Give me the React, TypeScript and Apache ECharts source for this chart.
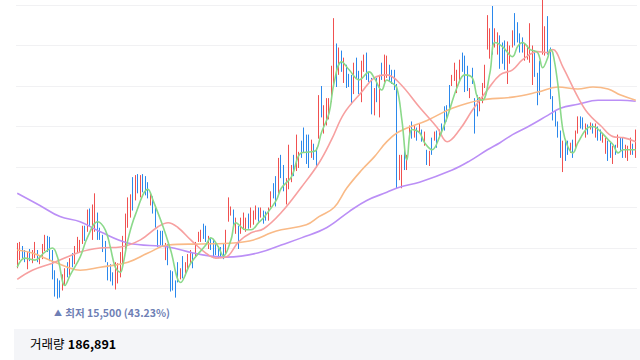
import React, { useEffect, useRef } from "react";
import * as echarts from "echarts";

// [open, close, low, high]
const candles: number[][] = [
  [17300,18050,17000,18250],[17500,18200,17400,18300],[18000,17600,17500,18100],[17750,17450,17300,17900],
  [17100,17650,16950,17800],[17850,17500,17350,17950],[17400,17800,17250,17900],[17650,18200,17500,18300],
  [17750,17450,17300,17900],[17300,17550,17200,17650],[17600,18100,17450,18200],[18000,18550,17850,18650],
  [18500,17950,17800,18600],[18400,17500,17350,18550],[17550,16600,16450,17900],[16600,15800,15600,16900],
  [16250,15600,15500,16500],[16200,15700,15550,16400],[16050,16550,15900,16700],[16300,16900,16150,17000],
  [17100,16700,16550,17300],[16800,17350,16650,17500],[17600,17150,17050,17750],[17300,18000,17200,18100],
  [17850,18450,17750,18550],[17900,18300,17800,18400],[18300,19000,18200,19100],[19000,18500,18350,19100],
  [18900,19800,18800,19900],[19850,19150,19050,19950],[18500,20000,18400,20150],[18900,19800,18800,20700],
  [19650,18500,18400,19750],[18900,18500,18400,19000],[18550,17900,17800,18650],[18250,17400,17300,18350],
  [17150,16500,16400,17300],[17000,16500,16350,17200],[16650,16250,16150,16800],[16100,17100,15950,17300],
  [16400,17100,16250,17250],[16800,17650,16550,17800],[17300,18400,17200,18600],[18000,19500,17850,19700],
  [19150,20350,19000,20500],[19650,20500,19500,20650],[21350,20000,19850,21500],[20450,21350,20350,21600],
  [21550,20850,20700,21650],[20600,21450,20500,21600],[21500,20950,20750,21650],[21350,20750,20600,21550],
  [21100,20600,20450,21250],[20250,20650,20100,20750],[20450,19800,19700,20550],[19850,19150,19000,20000],
  [18800,18150,18050,18900],[18750,18300,18150,18850],[18750,18250,18100,18850],[17500,18100,17400,18250],
  [18050,17300,17150,18200],[16700,15950,15850,16900],[16700,16050,15900,16850],[16250,15600,15550,16400],
  [17150,16400,16300,17300],[16600,16900,16450,17000],[17450,16600,16500,17600],[16800,17150,16650,17300],
  [17000,17550,16900,17700],[17300,17800,17200,17900],[17600,17100,17000,17750],[17650,18200,17550,18300],
  [18400,18700,18300,18800],[18400,18800,18300,18900],[19100,18550,18450,19200],[19000,18400,18300,19100],
  [18050,18500,17950,18600],[18400,18000,17900,18500],[18350,17600,17500,18450],[18100,17750,17650,18200],
  [18000,17600,17500,18100],[17950,17650,17550,18050],[18100,17600,17450,18200],[17800,18800,17700,18900],
  [19500,20350,19300,20500],[19700,20000,19600,20050],[19800,19100,19000,19900],[18800,19400,18700,19500],
  [19000,18100,17950,19100],[18800,19400,18700,19500],[19000,19650,18900,19750],[18900,19400,18800,19500],
  [19600,19100,18950,19700],[19150,19900,19000,20000],[19300,19750,19150,19850],[19550,20000,19400,20100],
  [19900,19400,19300,20000],[19600,19900,19500,20000],[19750,19300,19200,19850],[19700,19450,19350,19800],
  [19450,19900,19350,20000],[20050,20700,20000,20800],[21100,20550,20450,21200],[21450,20150,20050,21550],
  [20850,22350,20700,22450],[22500,21550,21450,22600],[22000,20950,20800,22100],[20250,21350,20150,21450],
  [21050,23000,20900,23100],[21350,22000,21250,22100],[22500,21650,21550,22600],[21950,23500,21800,23600],
  [22050,22650,21950,22750],[23200,22550,22450,23300],[23850,22800,22700,23950],[23500,22250,22150,23600],
  [23500,22050,21950,23600],[22550,23250,22450,23350],[23050,22450,22350,23150],[22850,22050,21950,22950],
  [23550,25450,23400,25550],[25900,24600,24450,26000],[23800,24950,23650,25050],[24200,25300,24050,25400],
  [24500,25300,24350,25400],[25350,26900,25200,27000],[26800,29000,26050,29350],[28000,26100,25950,28100],
  [26700,27800,26550,27900],[27650,26850,26700,27750],[26300,27300,26150,27400],[26950,26000,25900,27050],
  [26500,26100,25950,26600],[26450,25250,25100,26550],[25750,27050,25600,27150],[27300,26500,26400,27400],
  [26650,25750,25600,26750],[25350,27150,25200,27250],[26850,27450,26700,27550],[27550,26450,26300,27650],
  [26600,26300,26200,26700],[26300,24750,24600,26400],[24700,25800,24550,25900],[26300,25350,25200,26400],
  [24600,26450,24450,26550],[27050,26450,26300,27150],[26350,27450,26200,27550],[26500,27450,26400,27500],
  [26950,26350,26250,27050],[26700,26200,26100,26800],[26700,25950,25800,26800],[26000,21100,20950,26100],
  [21500,22500,21350,22600],[21050,22500,20950,22600],[22750,22000,21850,22850],[21950,22500,21850,22600],
  [23550,24000,23400,24050],[24150,23550,23400,24250],[23550,24000,23450,24050],[23850,23400,23300,23950],
  [23800,24050,23700,24150],[23750,23400,23250,23850],[23150,23650,23050,23750],[22750,22250,22100,22850],
  [22150,22700,22050,22800],[23350,22700,22600,23450],[23400,23650,23300,23750],[23700,23050,22950,23800],
  [23550,23750,23450,23850],[24050,23750,23650,24150],[24900,23900,23800,25000],[24950,24350,24250,25050],
  [25950,25000,24900,26050],[26100,26450,26000,26550],[26350,27050,26250,27150],[25750,26700,25650,26800],
  [26350,27200,26250,27300],[27550,26850,26700,27650],[27400,25850,25700,27500],[26900,25850,25750,27000],
  [25500,25800,25400,25900],[26800,26200,26100,26900],[25300,23750,23650,25400],[25450,24600,24500,25550],
  [24850,25350,24750,25450],[25250,26050,25150,26150],[26000,26950,25900,27050],[27950,29400,27800,29500],
  [27500,28750,27350,28850],[29850,27700,27550,29950],[28000,28750,27900,28850],[27700,28550,27550,28650],
  [28400,27000,26850,28500],[28050,27200,27100,28150],[28150,26950,26800,28250],[26250,28100,26100,28200],
  [27200,27950,27100,28000],[28000,28650,27900,28750],[29500,28150,28000,29600],[29050,28250,28150,29150],
  [28500,27750,27650,28600],[28300,27750,27650,28400],[27350,28000,27250,28100],[27400,27950,27300,28000],
  [27250,29000,27150,29100],[26200,27950,26050,28000],[27650,26600,26450,27750],[26550,25200,25050,26650],
  [27150,25700,25550,27250],[27700,30100,27550,30350],[27600,28850,27500,28950],[29350,27700,27550,29450],
  [27800,25500,25350,27900],[25400,24450,24300,25500],[24700,24100,24000,24800],[24150,23550,23450,24250],
  [23700,22550,22450,23800],[22350,23200,21750,23300],[23250,22400,22300,23350],[23200,22700,22600,23300],
  [22800,23100,22700,23200],[23250,22550,22450,23350],[23050,23700,22950,23800],[23750,24400,23650,24500],
  [24400,24000,23900,24500],[24350,23950,23850,24450],[23550,24050,23450,24150],[24000,23700,23600,24100],
  [23950,24100,23850,24200],[24050,23750,23650,24150],[23550,24050,23450,24150],[23950,23400,23300,24000],
  [23750,23400,23300,23850],[23300,23550,23200,23650],[22750,23350,22650,23450],[23200,22400,22300,23300],
  [23100,22550,22450,23200],[22250,22950,22150,23050],[23000,22700,22600,23100],[23050,23500,22950,23600],
  [23350,22900,22800,23450],[23350,22550,22450,23450],[22550,23000,22450,23100],[22400,22950,22300,23050],
  [22700,23350,22600,23450],[23050,22700,22600,23150],[22600,23750,22450,23850],
];

const categories: string[] = candles.map((_, i) => String(i));

// moving averages: [candle index, price]
const ma5: number[][] = [
  [0,17050],[3,17500],[7,17400],[11,17800],[14,18000],[16,17550],[19,16150],[21,16650],[25,17550],[28,18550],
  [32,19300],[35,18900],[37,18050],[39,17050],[41,16800],[42,17150],[44,18400],[47,19650],[52,20900],[54,20350],
  [58,19050],[61,17900],[65,16300],[69,17250],[75,18150],[77,18500],[80,18050],[82,17600],[85,18400],[87,19250],
  [91,18900],[93,18900],[96,19250],[98,19500],[103,20350],[105,20950],[109,21500],[113,22700],[117,22750],[119,22850],
  [121,23700],[124,24650],[126,26150],[129,27200],[132,26800],[136,26300],[140,26700],[142,26400],[145,25800],[147,26300],
  [149,26150],[151,25900],[153,24300],[155,22350],[157,23850],[160,23700],[162,23200],[165,22850],[168,23500],[171,24450],
  [175,25950],[178,26550],[181,26400],[183,25450],[185,25300],[188,26650],[190,28150],[193,27950],[197,27450],[199,27950],
  [201,28150],[204,27800],[207,27650],[209,26900],[211,27400],[212,27800],[213,27650],[215,26100],[217,23850],[219,23000],
  [221,22700],[223,23200],[227,23950],[229,24000],[232,23750],[235,23350],[237,23100],[239,22700],[241,22850],[243,22850],
  [246,22850],
];
const ma20: number[][] = [
  [0,16450],[6,16900],[14,17250],[25,17800],[33,18000],[41,18050],[49,18400],[56,19050],[60,19250],[64,19000],
  [69,18400],[75,17750],[79,17500],[83,17550],[88,18300],[93,18750],[98,18950],[105,19750],[113,21000],[120,22200],
  [125,23350],[130,24650],[137,25700],[142,26400],[147,26550],[152,26150],[160,24950],[167,23950],[171,23250],[176,23850],
  [181,24800],[187,25800],[192,26550],[197,26800],[201,27300],[207,27700],[211,27650],[213,27800],[217,26950],[223,25450],
  [227,24650],[232,24050],[237,23500],[241,23450],[246,23250],
];
const ma60: number[][] = [
  [0,17900],[6,17750],[13,17400],[20,17050],[25,16900],[33,17050],[44,17300],[52,17750],[60,18150],[73,18200],
  [86,18250],[94,18400],[101,18750],[105,18900],[115,19150],[120,19550],[126,20000],[131,20950],[137,21850],[142,22500],
  [147,23250],[152,23750],[163,24300],[173,24900],[184,25300],[197,25450],[207,25700],[215,25950],[223,25850],[229,25950],
  [235,25850],[240,25550],[246,25300],
];
const ma120: number[][] = [
  [0,20700],[9,20100],[17,19550],[25,19300],[33,18800],[44,18250],[60,18050],[70,17750],[77,17600],[83,17550],
  [89,17600],[97,17800],[105,18150],[113,18500],[123,19000],[132,19800],[139,20350],[147,20750],[152,21000],[160,21250],
  [173,21850],[180,22300],[187,22850],[192,23200],[197,23600],[204,24050],[211,24550],[216,24900],[223,25100],[231,25300],
  [240,25300],[246,25250],
];

const yMin = 14000;
const yMax = 30000;
const yInterval = 2000;

const lowIndex = 16;
const lowPrice = 15500;
const lowText = "최저 15,500 (43.23%)";
const volumeLabel = "거래량";
const volumeValue = "186,891";

const FONT = '"Noto Sans CJK KR", "Noto Sans", sans-serif';

export default function App() {
  const ref = useRef<HTMLDivElement>(null);
  useEffect(() => {
    if (!ref.current) return;
    const chart = echarts.init(ref.current, undefined, { renderer: "svg" });
    const lineSeries = (data: number[][], color: string, z: number) => ({
      type: "line",
      xAxisIndex: 1,
      data,
      smooth: 0.4,
      symbol: "none",
      z,
      lineStyle: { color, width: 1.6 },
    });
    chart.setOption({
      animation: false,
      grid: { left: 16, right: 3, top: 5, bottom: 31 },
      xAxis: [
        { type: "category", data: categories, boundaryGap: true, show: false },
        { type: "value", min: -0.5, max: candles.length - 0.5, show: false },
      ],
      yAxis: {
        type: "value",
        min: yMin,
        max: yMax,
        interval: yInterval,
        axisLabel: { show: false },
        axisLine: { show: false },
        axisTick: { show: false },
        splitLine: { lineStyle: { color: "#f1f1f3", width: 1 } },
      },
      series: [
        {
          type: "candlestick",
          data: candles,
          barWidth: 1.2,
          clip: false,
          z: 2,
          itemStyle: {
            color: "#f58585",
            color0: "#5aa6f2",
            borderColor: "#f05050",
            borderColor0: "#2b88ec",
            borderWidth: 1,
          },
          markPoint: {
            symbol: "circle",
            symbolSize: 1,
            itemStyle: { color: "rgba(0,0,0,0)" },
            data: [{ coord: [lowIndex, lowPrice] }],
            label: {
              show: true,
              position: [-3, 8],
              align: "left",
              verticalAlign: "top",
              formatter: "{t|▲} {a|" + lowText + "}",
              rich: {
                t: { fontSize: 8, color: "#6f7fb5", fontFamily: FONT },
                a: { fontSize: 10.5, color: "#6f7fb5", fontFamily: FONT, fontWeight: 600 },
              },
            },
          },
        },
        lineSeries(ma120, "#bb8ff6", 3),
        lineSeries(ma60, "#f9ba87", 4),
        lineSeries(ma20, "#f7a0a0", 5),
        lineSeries(ma5, "#8bd98a", 6),
      ],
      graphic: [
        {
          type: "rect",
          z: 100,
          shape: { x: 14, y: 329, width: 626, height: 31 },
          style: { fill: "#f4f5f8" },
        },
        {
          type: "text",
          z: 101,
          x: 30,
          y: 343,
          style: {
            text: "{a|" + volumeLabel + "} {b|" + volumeValue + "}",
            verticalAlign: "middle",
            rich: {
              a: { fontSize: 12.5, color: "#333333", fontFamily: FONT },
              b: { fontSize: 12.5, color: "#111111", fontFamily: FONT, fontWeight: "bold" },
            },
          },
        },
      ],
    });
    return () => chart.dispose();
  }, []);
  return (
    <div
      ref={ref}
      style={{ position: "fixed", left: 0, top: 0, width: 640, height: 360, background: "#ffffff" }}
    />
  );
}
